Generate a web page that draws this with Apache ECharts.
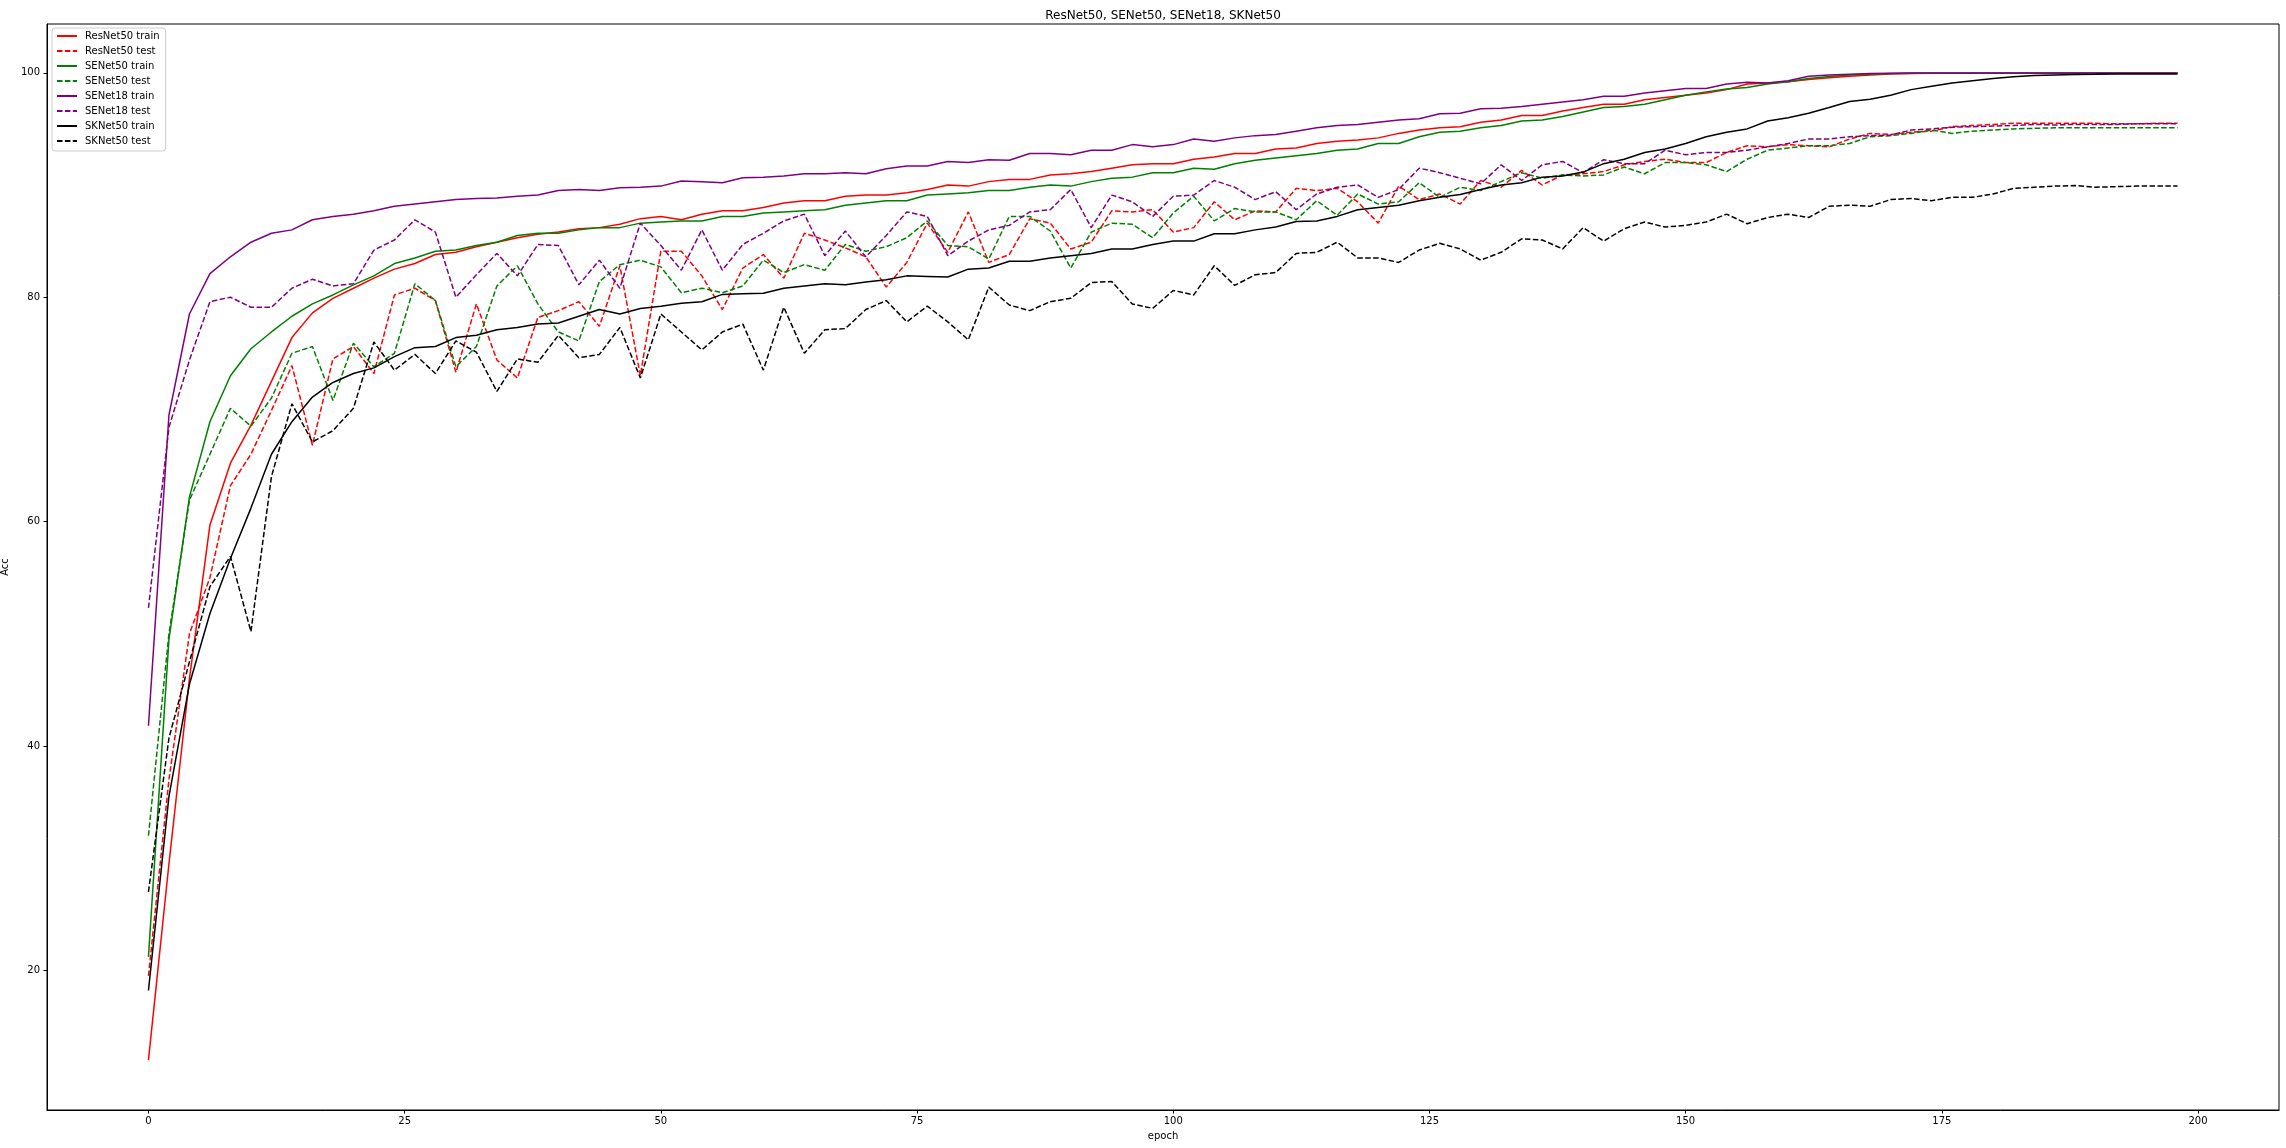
<!DOCTYPE html>
<html>
<head>
<meta charset="utf-8">
<script src="https://cdn.jsdelivr.net/npm/echarts@6/dist/echarts.min.js"></script>
<style>
  html, body { margin: 0; padding: 0; background: #fff; }
  #chart { width: 2286px; height: 1148px; }
</style>
</head>
<body>
<div id="chart"></div>
<script>
const epochs = [
  0, 2, 4, 6, 8, 10, 12, 14, 16, 18,
  20, 22, 24, 26, 28, 30, 32, 34, 36, 38,
  40, 42, 44, 46, 48, 50, 52, 54, 56, 58,
  60, 62, 64, 66, 68, 70, 72, 74, 76, 78,
  80, 82, 84, 86, 88, 90, 92, 94, 96, 98,
  100, 102, 104, 106, 108, 110, 112, 114, 116, 118,
  120, 122, 124, 126, 128, 130, 132, 134, 136, 138,
  140, 142, 144, 146, 148, 150, 152, 154, 156, 158,
  160, 162, 164, 166, 168, 170, 172, 174, 176, 178,
  180, 182, 184, 186, 188, 190, 192, 194, 196, 198
];

const resnet50Train = [
  12.0, 29.5, 46.0, 59.7, 65.2, 68.6, 72.5, 76.4, 78.6, 79.9,
  80.8, 81.7, 82.5, 83.0, 83.8, 84.0, 84.5, 84.9, 85.3, 85.6,
  85.8, 86.1, 86.2, 86.5, 87.0, 87.2, 86.9, 87.4, 87.7, 87.7,
  88.0, 88.4, 88.6, 88.6, 89.0, 89.1, 89.1, 89.3, 89.6, 90.0,
  89.9, 90.3, 90.5, 90.5, 90.9, 91.0, 91.2, 91.5, 91.8, 91.9,
  91.9, 92.3, 92.5, 92.8, 92.8, 93.2, 93.3, 93.7, 93.9, 94.0,
  94.2, 94.6, 94.9, 95.1, 95.2, 95.6, 95.8, 96.2, 96.2, 96.6,
  96.9, 97.2, 97.2, 97.6, 97.8, 98.0, 98.2, 98.5, 99.0, 99.1,
  99.2, 99.4, 99.55, 99.7, 99.8, 99.9, 99.94, 99.96, 99.96, 99.96,
  99.96, 99.96, 99.96, 99.96, 99.96, 99.96, 99.96, 99.96, 99.96, 99.96
];
const resnet50Test = [
  19.5, 37.0, 50.0, 55.0, 63.2, 66.0, 69.9, 73.9, 66.8, 74.5,
  75.6, 73.2, 80.2, 80.8, 79.7, 73.3, 79.4, 74.4, 72.8, 78.2,
  78.8, 79.6, 77.4, 82.8, 73.0, 84.1, 84.1, 81.9, 78.9, 82.6,
  83.8, 81.7, 85.7, 85.1, 84.4, 83.6, 80.9, 83.1, 86.6, 84.0,
  87.6, 83.1, 83.8, 87.0, 86.6, 84.3, 84.9, 87.7, 87.6, 87.8,
  85.8, 86.2, 88.5, 86.9, 87.7, 87.6, 89.7, 89.5, 89.7, 88.5,
  86.6, 89.9, 88.7, 89.2, 88.3, 90.4, 89.8, 91.3, 90.0, 90.9,
  91.0, 91.2, 91.8, 92.1, 92.3, 92.0, 92.0, 92.9, 93.5, 93.4,
  93.6, 93.5, 93.4, 94.1, 94.6, 94.5, 94.7, 94.8, 95.2, 95.3,
  95.4, 95.5, 95.5, 95.5, 95.5, 95.5, 95.45, 95.45, 95.5, 95.5
];
const senet50Train = [
  21.2, 49.5, 62.2, 68.9, 73.0, 75.4, 76.9, 78.3, 79.4, 80.2,
  81.1, 81.9, 83.0, 83.5, 84.1, 84.2, 84.6, 84.9, 85.5, 85.7,
  85.7, 86.0, 86.2, 86.2, 86.6, 86.7, 86.8, 86.8, 87.2, 87.2,
  87.5, 87.6, 87.7, 87.8, 88.2, 88.4, 88.6, 88.6, 89.1, 89.2,
  89.3, 89.5, 89.5, 89.8, 90.0, 89.9, 90.3, 90.6, 90.7, 91.1,
  91.1, 91.5, 91.4, 91.9, 92.2, 92.4, 92.6, 92.8, 93.1, 93.2,
  93.7, 93.7, 94.3, 94.7, 94.8, 95.1, 95.3, 95.7, 95.8, 96.1,
  96.5, 96.9, 97.0, 97.2, 97.6, 98.0, 98.3, 98.55, 98.7, 99.0,
  99.2, 99.5, 99.67, 99.8, 99.88, 99.94, 99.95, 99.96, 99.96, 99.96,
  99.96, 99.96, 99.96, 99.96, 99.96, 99.96, 99.96, 99.96, 99.96, 99.96
];
const senet50Test = [
  32.0, 50.0, 61.9, 66.0, 70.1, 68.5, 71.0, 75.0, 75.6, 70.8,
  75.9, 73.8, 75.0, 81.2, 79.7, 73.8, 75.6, 81.0, 82.8, 79.4,
  76.9, 76.1, 81.4, 82.9, 83.3, 82.7, 80.4, 80.8, 80.4, 81.0,
  83.3, 82.2, 82.9, 82.4, 84.7, 84.1, 84.5, 85.3, 86.8, 84.6,
  84.5, 83.4, 87.2, 87.2, 85.9, 82.6, 85.8, 86.6, 86.5, 85.3,
  87.5, 89.0, 86.8, 87.9, 87.6, 87.6, 86.9, 88.6, 87.3, 89.2,
  88.3, 88.5, 90.2, 88.9, 89.8, 89.5, 90.3, 91.1, 90.6, 90.9,
  90.8, 90.9, 91.6, 91.0, 92.0, 92.0, 91.8, 91.2, 92.3, 93.1,
  93.3, 93.5, 93.5, 93.7, 94.3, 94.4, 94.6, 94.9, 94.6, 94.8,
  94.9, 95.0, 95.05, 95.1, 95.1, 95.1, 95.1, 95.1, 95.1, 95.1
];
const senet18Train = [
  41.8, 69.5, 78.5, 82.1, 83.6, 84.9, 85.7, 86.0, 86.9, 87.2,
  87.4, 87.7, 88.1, 88.3, 88.5, 88.7, 88.8, 88.85, 89.0, 89.1,
  89.5, 89.6, 89.5, 89.75, 89.8, 89.9, 90.35, 90.3, 90.2, 90.65,
  90.7, 90.8, 91.0, 91.0, 91.1, 91.0, 91.45, 91.7, 91.7, 92.1,
  92.0, 92.25, 92.2, 92.8, 92.8, 92.7, 93.1, 93.1, 93.6, 93.4,
  93.6, 94.1, 93.9, 94.2, 94.4, 94.5, 94.8, 95.1, 95.3, 95.4,
  95.6, 95.8, 95.9, 96.35, 96.4, 96.8, 96.85, 97.0, 97.2, 97.4,
  97.6, 97.9, 97.9, 98.2, 98.4, 98.6, 98.6, 99.0, 99.15, 99.1,
  99.3, 99.7, 99.8, 99.88, 99.94, 99.97, 99.98, 99.98, 99.98, 99.98,
  99.98, 99.98, 99.98, 99.98, 99.98, 99.98, 99.98, 99.98, 99.98, 99.98
];
const senet18Test = [
  52.3, 68.4, 74.4, 79.6, 80.0, 79.1, 79.1, 80.8, 81.6, 81.0,
  81.2, 84.2, 85.1, 86.9, 85.8, 80.0, 82.0, 83.9, 81.9, 84.7,
  84.6, 81.1, 83.3, 80.8, 86.6, 84.6, 82.4, 86.0, 82.4, 84.7,
  85.7, 86.8, 87.4, 83.7, 85.9, 83.6, 85.5, 87.6, 87.2, 83.7,
  85.0, 86.0, 86.4, 87.6, 87.8, 89.6, 86.2, 89.1, 88.5, 87.2,
  89.0, 89.1, 90.4, 89.8, 88.7, 89.4, 87.8, 89.2, 89.8, 90.0,
  88.9, 89.6, 91.5, 91.1, 90.6, 90.1, 91.8, 90.4, 91.8, 92.1,
  91.1, 92.25, 91.9, 91.9, 93.1, 92.7, 92.9, 92.9, 93.1, 93.4,
  93.7, 94.1, 94.1, 94.3, 94.4, 94.45, 94.9, 95.0, 95.15, 95.2,
  95.25, 95.3, 95.4, 95.35, 95.4, 95.4, 95.4, 95.45, 95.45, 95.45
];
const sknet50Train = [
  18.2, 35.5, 45.5, 51.8, 56.7, 61.2, 66.0, 68.9, 71.1, 72.4,
  73.2, 73.7, 74.7, 75.5, 75.6, 76.4, 76.6, 77.1, 77.3, 77.6,
  77.7, 78.3, 78.9, 78.5, 79.0, 79.2, 79.45, 79.6, 80.25, 80.3,
  80.35, 80.8, 81.0, 81.2, 81.1, 81.35, 81.55, 81.9, 81.85, 81.8,
  82.5, 82.6, 83.2, 83.2, 83.5, 83.7, 83.9, 84.3, 84.3, 84.7,
  85.0, 85.0, 85.65, 85.65, 86.0, 86.25, 86.75, 86.8, 87.2, 87.8,
  88.0, 88.2, 88.6, 88.9, 89.15, 89.6, 90.0, 90.2, 90.7, 90.8,
  91.15, 91.9, 92.3, 92.9, 93.2, 93.7, 94.3, 94.7, 95.0, 95.7,
  96.0, 96.4, 96.9, 97.45, 97.65, 98.0, 98.5, 98.8, 99.1, 99.3,
  99.5, 99.65, 99.75, 99.8, 99.85, 99.87, 99.9, 99.9, 99.9, 99.9
];
const sknet50Test = [
  27.0, 40.7, 47.5, 54.2, 56.9, 50.2, 64.0, 70.5, 67.1, 68.1,
  70.1, 76.0, 73.5, 74.9, 73.2, 76.1, 75.1, 71.6, 74.5, 74.2,
  76.6, 74.6, 74.9, 77.3, 72.8, 78.5, 76.9, 75.3, 76.9, 77.6,
  73.5, 79.1, 75.0, 77.1, 77.2, 78.9, 79.7, 77.8, 79.2, 77.8,
  76.2, 80.9, 79.3, 78.8, 79.6, 79.9, 81.3, 81.4, 79.4, 79.0,
  80.6, 80.2, 82.8, 81.05, 82.0, 82.2, 83.9, 84.0, 84.9, 83.5,
  83.5, 83.1, 84.2, 84.8, 84.3, 83.3, 84.0, 85.2, 85.1, 84.3,
  86.2, 85.0, 86.1, 86.7, 86.25, 86.4, 86.7, 87.4, 86.55, 87.1,
  87.4, 87.1, 88.1, 88.2, 88.1, 88.7, 88.8, 88.6, 88.9, 88.9,
  89.2, 89.7, 89.8, 89.9, 89.95, 89.8, 89.85, 89.9, 89.9, 89.9
];

const xTicks = [0, 25, 50, 75, 100, 125, 150, 175, 200];
const yTicks = [20, 40, 60, 80, 100];

const seriesDefs = [
  { name: 'ResNet50 train', values: resnet50Train, color: '#ff0000', dashed: false },
  { name: 'ResNet50 test',  values: resnet50Test,  color: '#ff0000', dashed: true },
  { name: 'SENet50 train',  values: senet50Train,  color: '#008000', dashed: false },
  { name: 'SENet50 test',   values: senet50Test,   color: '#008000', dashed: true },
  { name: 'SENet18 train',  values: senet18Train,  color: '#800080', dashed: false },
  { name: 'SENet18 test',   values: senet18Test,   color: '#800080', dashed: true },
  { name: 'SKNet50 train',  values: sknet50Train,  color: '#000000', dashed: false },
  { name: 'SKNet50 test',   values: sknet50Test,   color: '#000000', dashed: true }
];

const FONT = 'DejaVu Sans';
const chart = echarts.init(document.getElementById('chart'), null, { renderer: 'canvas' });

chart.setOption({
  animation: false,
  backgroundColor: '#ffffff',
  textStyle: { fontFamily: FONT },
  title: {
    text: 'ResNet50, SENet50, SENet18, SKNet50',
    left: 1158,
    top: 5,
    textAlign: 'center',
    textStyle: { fontFamily: FONT, fontSize: 12, fontWeight: 'normal', color: '#000' }
  },
  legend: {
    orient: 'vertical',
    left: 52,
    top: 28,
    padding: [3, 6, 5, 4],
    itemWidth: 20,
    itemHeight: 10,
    itemGap: 5,
    borderColor: '#cccccc',
    borderWidth: 1,
    borderRadius: 3,
    backgroundColor: 'rgba(255,255,255,0.8)',
    itemStyle: { opacity: 0, borderWidth: 0 },
    textStyle: { fontFamily: FONT, fontSize: 10, color: '#000', lineHeight: 10, padding: [0, 0, 0, 3] },
    data: seriesDefs.map(s => s.name)
  },
  grid: {
    left: 47, top: 24, width: 2232, height: 1086,
    outerBoundsMode: 'none',
    show: true, borderColor: '#000', borderWidth: 1, backgroundColor: 'transparent',
    containLabel: false
  },
  xAxis: {
    type: 'value',
    min: -9.9, max: 207.9,
    name: 'epoch',
    nameLocation: 'middle',
    nameGap: 21,
    nameTextStyle: { fontFamily: FONT, fontSize: 10, color: '#000' },
    axisLine: { show: true, onZero: false, lineStyle: { color: '#000', width: 1 } },
    axisTick: { show: true, length: 3.5, lineStyle: { color: '#000', width: 1 }, customValues: xTicks },
    axisLabel: { fontFamily: FONT, fontSize: 10, color: '#000', margin: 6, customValues: xTicks },
    splitLine: { show: false }
  },
  yAxis: {
    type: 'value',
    min: 7.55, max: 104.35,
    name: 'Acc',
    nameLocation: 'middle',
    nameGap: 24,
    nameRotate: 90,
    nameTextStyle: { fontFamily: FONT, fontSize: 10, color: '#000' },
    axisLine: { show: true, onZero: false, lineStyle: { color: '#000', width: 1 } },
    axisTick: { show: true, length: 3.5, lineStyle: { color: '#000', width: 1 }, customValues: yTicks },
    axisLabel: { fontFamily: FONT, fontSize: 10, color: '#000', margin: 7, customValues: yTicks },
    splitLine: { show: false }
  },
  series: seriesDefs.map(s => ({
    name: s.name,
    type: 'line',
    data: epochs.map((e, i) => [e, s.values[i]]),
    showSymbol: false,
    symbol: 'none',
    color: s.color,
    lineStyle: { color: s.color, width: 1.5, type: s.dashed ? [5.5, 2.4] : 'solid' },
    emphasis: { disabled: true }
  }))
});
</script>
</body>
</html>
